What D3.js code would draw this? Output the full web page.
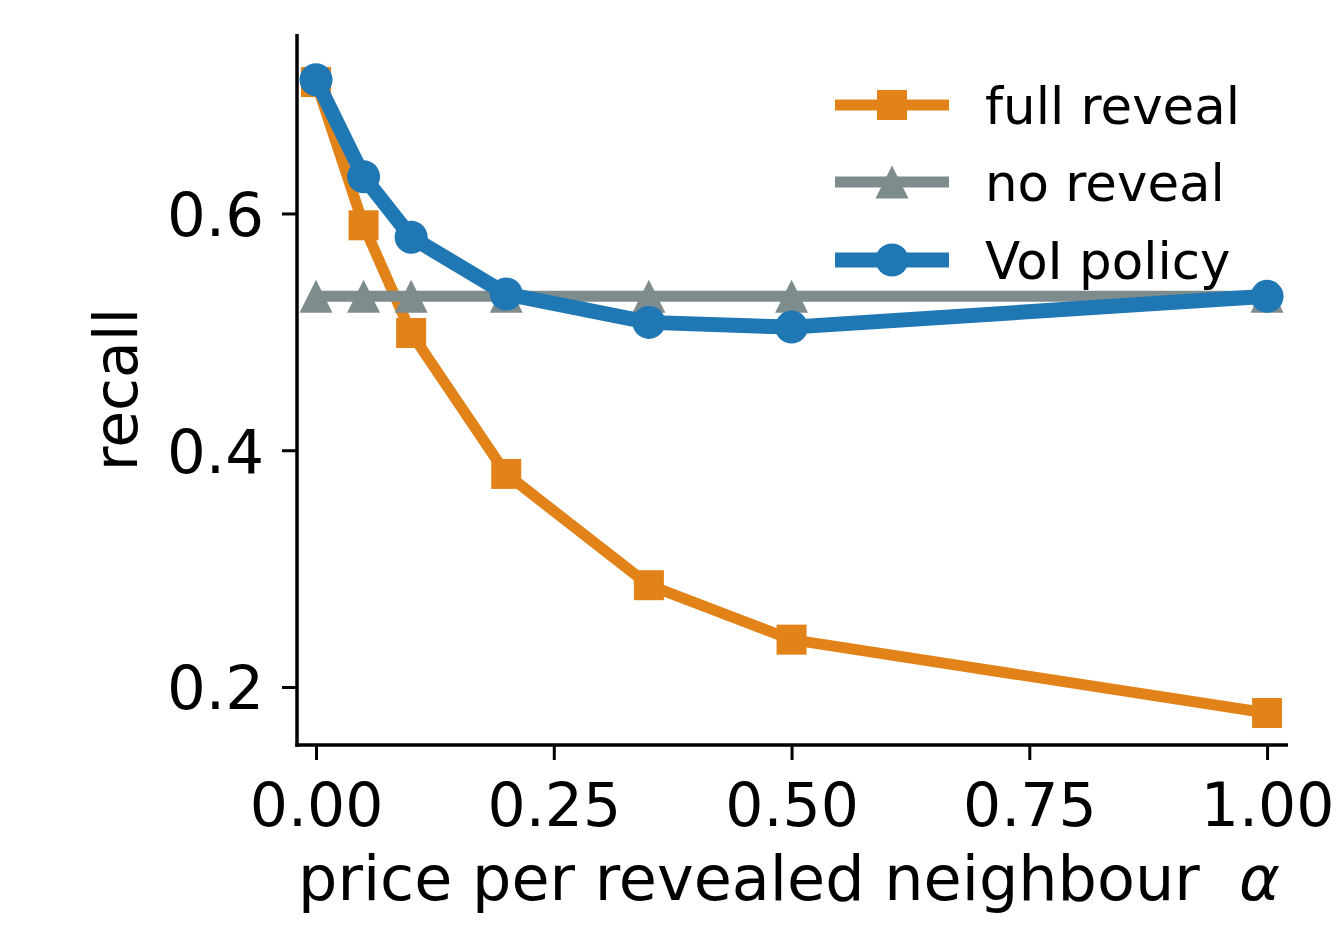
<!DOCTYPE html>
<html>
<head>
<meta charset="utf-8">
<script src="https://cdn.jsdelivr.net/npm/d3@7"></script>
<style>
  html, body { margin: 0; padding: 0; background: #fff; }
  svg { display: block; }
  text { font-family: "DejaVu Sans", sans-serif; fill: #000; }
</style>
</head>
<body>
<svg id="chart" width="1344" height="929"></svg>
<script>
const alphas = [0, 0.05, 0.1, 0.2, 0.35, 0.5, 1.0];
const fullReveal = [0.711, 0.590, 0.499, 0.380, 0.286, 0.240, 0.178];
const noReveal = [0.530, 0.530, 0.530, 0.530, 0.530, 0.530, 0.530];
const voiPolicy = [0.713, 0.631, 0.580, 0.532, 0.508, 0.504, 0.530];
const xTicks = [0, 0.25, 0.5, 0.75, 1.0];
const yTicks = [0.2, 0.4, 0.6];
const seriesNames = ["full reveal", "no reveal", "VoI policy"];
const seriesColors = ["#e2831a", "#7f8c8d", "#1f77b4"];

(function () {
const svg = d3.select("#chart");
const pL = 297, pR = 1288, pT = 34, pB = 745;
const x = d3.scaleLinear().domain([-0.02, 1.022]).range([pL, pR]);
const y = d3.scaleLinear().domain([0.151, 0.7516]).range([pB, pT]);

const series = [
  {name: seriesNames[0], values: fullReveal, color: seriesColors[0], lw: 11, marker: "square"},
  {name: seriesNames[1], values: noReveal, color: seriesColors[1], lw: 11, marker: "triangle"},
  {name: seriesNames[2], values: voiPolicy, color: seriesColors[2], lw: 15, marker: "circle"}
];

const triType = {draw(ctx, size) {
  const h = 16.5;
  ctx.moveTo(0, -h); ctx.lineTo(h, h); ctx.lineTo(-h, h); ctx.closePath();
}};
const symbolFor = {
  square: d3.symbol().type(d3.symbolSquare).size(30 * 30),
  triangle: d3.symbol().type(triType).size(1),
  circle: d3.symbol().type(d3.symbolCircle).size(Math.PI * 16.5 * 16.5)
};

const line = d3.line().x(d => x(d[0])).y(d => y(d[1]));

const plot = svg.append("g");
series.forEach(s => {
  const pts = alphas.map((a, i) => [a, s.values[i]]);
  const g = plot.append("g");
  g.append("path").attr("d", line(pts)).attr("fill", "none")
    .attr("stroke", s.color).attr("stroke-width", s.lw).attr("stroke-linejoin", "round");
  g.selectAll("path.m").data(pts).enter().append("path").attr("class", "m")
    .attr("d", symbolFor[s.marker]())
    .attr("transform", d => `translate(${x(d[0])},${y(d[1])})`)
    .attr("fill", s.color);
});

const xAxis = d3.axisBottom(x).tickValues(xTicks).tickFormat(d3.format(".2f")).tickSize(15).tickPadding(10);
const yAxis = d3.axisLeft(y).tickValues(yTicks).tickFormat(d3.format(".1f")).tickSize(15).tickPadding(10);

const gx = svg.append("g").attr("transform", `translate(0,${pB})`).call(xAxis);
const gy = svg.append("g").attr("transform", `translate(${pL},0)`).call(yAxis);
[gx, gy].forEach(g => {
  g.select(".domain").remove();
  g.selectAll(".tick line").attr("stroke", "#000").attr("stroke-width", 3);
  g.selectAll(".tick text").attr("font-size", 60).attr("font-family", "DejaVu Sans").attr("fill", "#000");
});
gx.selectAll(".tick text").attr("dy", null).attr("y", 81);
gy.selectAll(".tick text").attr("dy", null).attr("x", -33).attr("y", 22).attr("font-size", 61);

svg.append("line").attr("x1", pL).attr("x2", pL).attr("y1", pT).attr("y2", pB + 1.75)
  .attr("stroke", "#000").attr("stroke-width", 3.5);
svg.append("line").attr("x1", pL - 1.75).attr("x2", pR).attr("y1", pB).attr("y2", pB)
  .attr("stroke", "#000").attr("stroke-width", 3.5);

const xl = svg.append("text").attr("x", 789).attr("y", 900)
  .attr("text-anchor", "middle").attr("font-size", 62);
xl.append("tspan").text("price per revealed neighbour\u00a0\u00a0");
xl.append("tspan").attr("font-style", "italic").text("\u03b1");

svg.append("text").attr("transform", `translate(137,${(pT + pB) / 2}) rotate(-90)`)
  .attr("text-anchor", "middle").attr("font-size", 60).text("recall");

const legRows = [105, 182, 260];
const leg = svg.append("g");
series.forEach((s, i) => {
  const ry = legRows[i];
  leg.append("line").attr("x1", 835).attr("x2", 949).attr("y1", ry).attr("y2", ry)
    .attr("stroke", s.color).attr("stroke-width", s.lw);
  leg.append("path").attr("d", symbolFor[s.marker]()).attr("transform", `translate(892,${ry})`)
    .attr("fill", s.color);
  leg.append("text").attr("x", 985).attr("y", ry + 19).attr("font-size", 51.4).text(s.name);
});
})();
</script>
</body>
</html>
